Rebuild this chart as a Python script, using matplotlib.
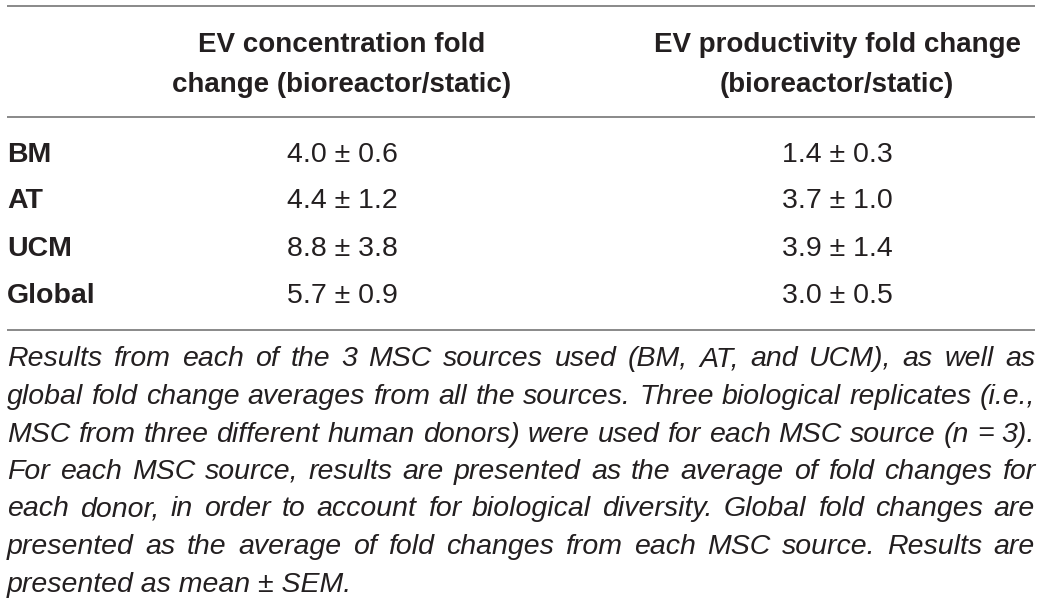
import matplotlib
matplotlib.use("Agg")
import matplotlib.pyplot as plt

# ------------------------------------------------------------------
# table content
# ------------------------------------------------------------------
col_headers = [["EV concentration fold", "change (bioreactor/static)"],
               ["EV productivity fold change", "(bioreactor/static)"]]
sources = ["BM", "AT", "UCM", "Global"]
conc_mean = [4.0, 4.4, 8.8, 5.7]
conc_sem = [0.6, 1.2, 3.8, 0.9]
prod_mean = [1.4, 3.7, 3.9, 3.0]
prod_sem = [0.3, 1.0, 1.4, 0.5]

footnote_lines = [
    "Results from each of the 3 MSC sources used (BM, AT, and UCM), as well as",
    "global fold change averages from all the sources. Three biological replicates (i.e.,",
    "MSC from three different human donors) were used for each MSC source (n = 3).",
    "For each MSC source, results are presented as the average of fold changes for",
    "each donor, in order to account for biological diversity. Global fold changes are",
    "presented as the average of fold changes from each MSC source. Results are",
    "presented as mean \u00b1 SEM.",
]

# ------------------------------------------------------------------
# layout (pixel space, y = text baselines)
# ------------------------------------------------------------------
W, H = 1042, 602
LEFT, RIGHT = 7, 1035
COL_X = [342, 837]
HEAD_Y = [52, 91.5]
ROW_Y = [162, 208.5, 256, 303]
FOOT_Y0, FOOT_DY = 366.5, 37.5
TXT = "#231f20"
RULE = "#808080"
FONT = "Liberation Sans"

fig = plt.figure(figsize=(W / 100, H / 100), dpi=100)
ax = fig.add_axes([0, 0, 1, 1])
ax.set_xlim(0, W)
ax.set_ylim(H, 0)
ax.axis("off")

for y in (5.5, 116.5, 329.5):
    ax.plot([LEFT, RIGHT], [y, y], color=RULE, lw=1.3, solid_capstyle="butt")

for x, head in zip(COL_X, col_headers):
    for y, part in zip(HEAD_Y, head):
        ax.text(x, y, part, ha="center", va="baseline", fontsize=20,
                fontweight="bold", family=FONT, color=TXT)

for i, name in enumerate(sources):
    y = ROW_Y[i]
    ax.text(LEFT, y, name, ha="left", va="baseline", fontsize=20.5,
            fontweight="bold", family=FONT, color=TXT)
    ax.text(COL_X[0], y, f"{conc_mean[i]:.1f} \u00b1 {conc_sem[i]:.1f}",
            ha="center", va="baseline", fontsize=20.5, family=FONT, color=TXT)
    ax.text(COL_X[1], y, f"{prod_mean[i]:.1f} \u00b1 {prod_sem[i]:.1f}",
            ha="center", va="baseline", fontsize=20.5, family=FONT, color=TXT)

# --- justified italic footnote -------------------------------------
fig.canvas.draw()
renderer = fig.canvas.get_renderer()
foot_kw = dict(fontsize=20.5, style="italic", family=FONT, color=TXT,
               va="baseline", ha="left")
for k, line in enumerate(footnote_lines):
    y = FOOT_Y0 + k * FOOT_DY
    if k == len(footnote_lines) - 1:
        ax.text(LEFT, y, line, **foot_kw)
        continue
    words = line.split(" ")
    arts = [ax.text(0, y, w, **foot_kw) for w in words]
    widths = [a.get_window_extent(renderer).width for a in arts]
    gap = (RIGHT - LEFT - sum(widths)) / (len(words) - 1)
    x = LEFT
    for a, w in zip(arts, widths):
        a.set_x(x)
        x += w + gap

fig.savefig("out.png", dpi=100, facecolor="white")
